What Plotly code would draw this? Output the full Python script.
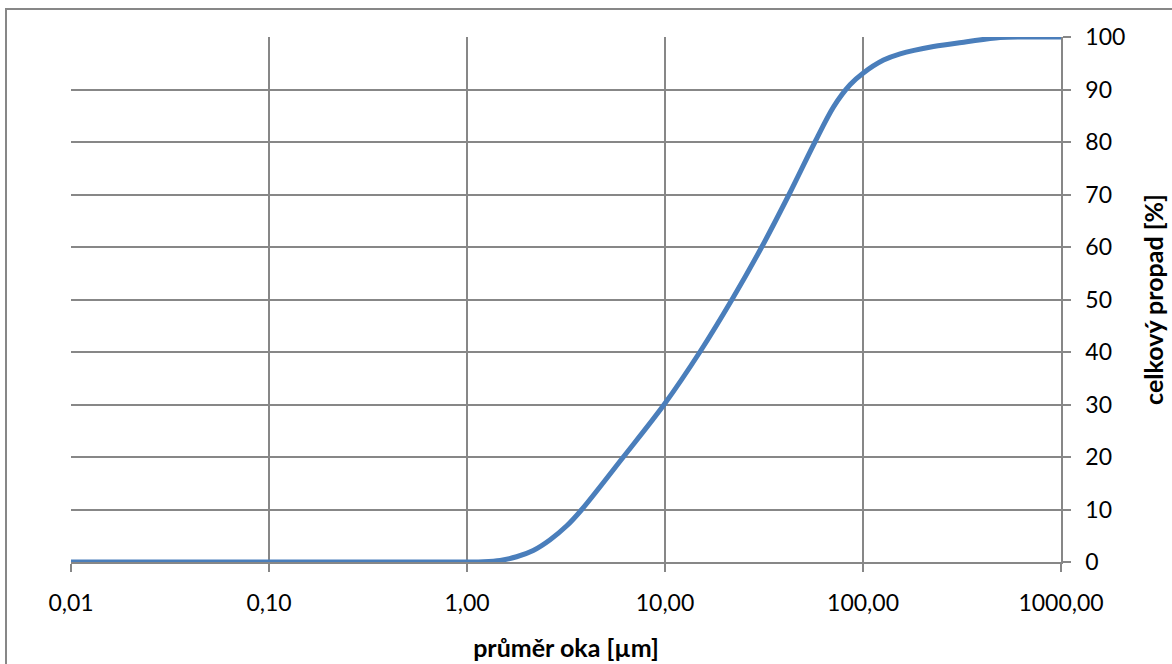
import plotly.graph_objects as go

# Sieve mesh size [µm] and cumulative passing [%]
mesh_um = [0.01, 0.1, 1.0, 1.21, 1.47, 1.78, 2.16, 2.62, 3.19, 3.8, 6.16, 9.9,
           15.0, 21.8, 30.8, 42.3, 57.2, 71.0, 86.0, 100.0, 127.0, 154.0,
           227.0, 334.0, 492.0, 724.0, 1000.0]
passing_pct = [0.0, 0.0, 0.0, 0.05, 0.3, 1.0, 2.2, 4.2, 6.9, 10.0, 20.0, 30.0,
               40.0, 50.0, 60.0, 70.0, 80.0, 86.7, 90.9, 93.1, 95.6, 96.8,
               98.2, 99.1, 99.9, 100.0, 100.0]

x_tickvals = [0.01, 0.1, 1, 10, 100, 1000]
x_ticktext = ["0,01", "0,10", "1,00", "10,00", "100,00", "1000,00"]

grid = "#878787"
font = "Lato, 'Open Sans', sans-serif"

fig = go.Figure()
fig.add_trace(go.Scatter(
    x=mesh_um, y=passing_pct, mode="lines",
    line=dict(color="#4a7ebb", width=5, shape="spline", smoothing=0.9),
    cliponaxis=False, showlegend=False, hoverinfo="x+y",
))

fig.update_layout(
    width=1172, height=664,
    margin=dict(l=71, r=111, t=37, b=102),
    paper_bgcolor="white", plot_bgcolor="white",
    font=dict(family=font, size=23, color="black"),
    xaxis=dict(
        type="log", range=[-2, 3], automargin=False,
        tickvals=x_tickvals, ticktext=x_ticktext,
        showgrid=True, gridcolor=grid, gridwidth=1.5,
        showline=True, linecolor=grid, linewidth=1.5,
        ticks="outside", ticklen=8, tickcolor=grid, tickwidth=1.5,
        ticklabelstandoff=12, zeroline=False,
        title=dict(text="<b>průměr oka [µm]</b>", font=dict(size=25), standoff=24),
    ),
    yaxis=dict(
        side="right", range=[0, 100], dtick=10, automargin=False,
        showgrid=True, gridcolor=grid, gridwidth=1.5,
        showline=True, linecolor=grid, linewidth=1.5,
        ticks="outside", ticklen=8, tickcolor=grid, tickwidth=1.5,
        ticklabelstandoff=10, zeroline=False,
        title=dict(text="<b>celkový propad [%]</b>", font=dict(size=25), standoff=21),
    ),
    shapes=[dict(
        type="rect", xref="paper", yref="paper",
        x0=(6 - 71) / 990, x1=(1190 - 71) / 990,
        y0=(562 - 690) / 525, y1=(562 - 9) / 525,
        line=dict(color=grid, width=2), fillcolor="rgba(0,0,0,0)", layer="below",
    )],
)

fig.write_html("out.html")
